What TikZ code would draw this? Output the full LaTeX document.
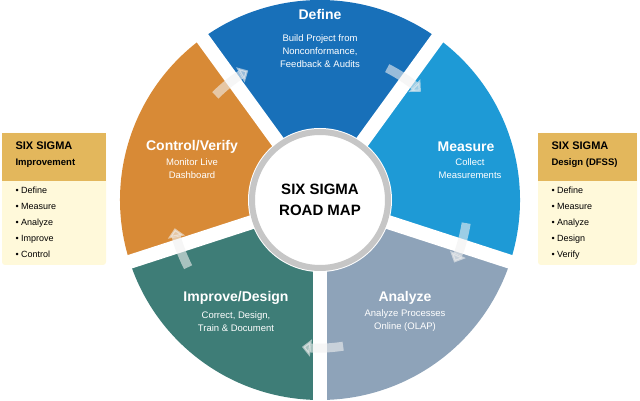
\documentclass[tikz,border=0pt]{standalone}
\usepackage{fontspec}
\setmainfont{Liberation Sans}
\usetikzlibrary{arrows.meta,calc}
\definecolor{cdef}{HTML}{1870B9}
\definecolor{cmea}{HTML}{1E9AD6}
\definecolor{cana}{HTML}{8EA3B9}
\definecolor{cimp}{HTML}{3E7D77}
\definecolor{ccon}{HTML}{D88A36}
\definecolor{hdr}{HTML}{E3B75C}
\definecolor{bdy}{HTML}{FFF9DA}
\tikzset{x=1pt,y=1pt,
 ttl/.style={text=white,font=\bfseries\fontsize{14}{15}\selectfont,align=center},
 sub/.style={text=white,font=\fontsize{9.5}{13}\selectfont,align=center},
 gap/.style={white,line width=14pt},
 flow/.style={white!88!gray,opacity=0.6,line width=9pt,-{Triangle[width=17pt,length=9pt]}},
 hd/.style={font=\bfseries\fontsize{11}{16}\selectfont,align=left,anchor=north west},
 lst/.style={font=\fontsize{9}{16}\selectfont,align=left,anchor=north west}}
\begin{document}
\begin{tikzpicture}
\useasboundingbox (0,0) rectangle (640,401);
\coordinate (C) at (320,201);
\fill[cdef] (C) -- ++(54:200) arc[start angle=54,end angle=126,radius=200] -- cycle;
\fill[cmea] (C) -- ++(-18:200) arc[start angle=-18,end angle=54,radius=200] -- cycle;
\fill[cana] (C) -- ++(-90:200) arc[start angle=-90,end angle=-18,radius=200] -- cycle;
\fill[cimp] (C) -- ++(-162:200) arc[start angle=-162,end angle=-90,radius=200] -- cycle;
\fill[ccon] (C) -- ++(126:200) arc[start angle=126,end angle=198,radius=200] -- cycle;
\foreach \a in {54,126,198,270,342} \draw[gap] (C) -- ++(\a:210);
\foreach \a in {54,126,198,270,342}
  \draw[flow] ($(C)+(\a+9:148)$) arc[start angle=\a+9,end angle=\a-7,radius=148];
\fill[white] (C) circle (72);
\draw[gray!45,line width=6pt] (C) circle (68);
\node[font=\bfseries\fontsize{15}{21}\selectfont,align=center] (mid) at (C) {SIX SIGMA\\ROAD MAP};
\node[ttl] (def) at (320,386) {Define};
\node[sub] (defs) at (320,350) {Build Project from\\Nonconformance,\\Feedback \& Audits};
\node[ttl] (mea) at (466,254) {Measure};
\node[sub] (meas) at (470,232) {Collect\\Measurements};
\node[ttl] (ana) at (405,103) {Analyze};
\node[sub] (anas) at (405,80) {Analyze Processes\\Online (OLAP)};
\node[ttl] (imp) at (236,103) {Improve/Design};
\node[sub] (imps) at (236,79) {Correct, Design,\\Train \& Document};
\node[ttl] (con) at (192,254) {Control/Verify};
\node[sub] (cons) at (192,232) {Monitor Live\\Dashboard};
% side boxes
\fill[bdy,rounded corners=3pt] (2,136) rectangle (106,268);
\fill[hdr] (2,220) rectangle (106,268);
\node[hd] (lh) at (12,263) {SIX SIGMA\\{\fontsize{9.5}{11}\selectfont Improvement}};
\node[lst] (ll) at (12,218) {• Define\\• Measure\\• Analyze\\• Improve\\• Control};
\fill[bdy,rounded corners=3pt] (538,136) rectangle (637,268);
\fill[hdr] (538,220) rectangle (637,268);
\node[hd] (rh) at (548,263) {SIX SIGMA\\{\fontsize{9.5}{11}\selectfont Design (DFSS)}};
\node[lst] (rl) at (548,218) {• Define\\• Measure\\• Analyze\\• Design\\• Verify};
\end{tikzpicture}
\end{document}
